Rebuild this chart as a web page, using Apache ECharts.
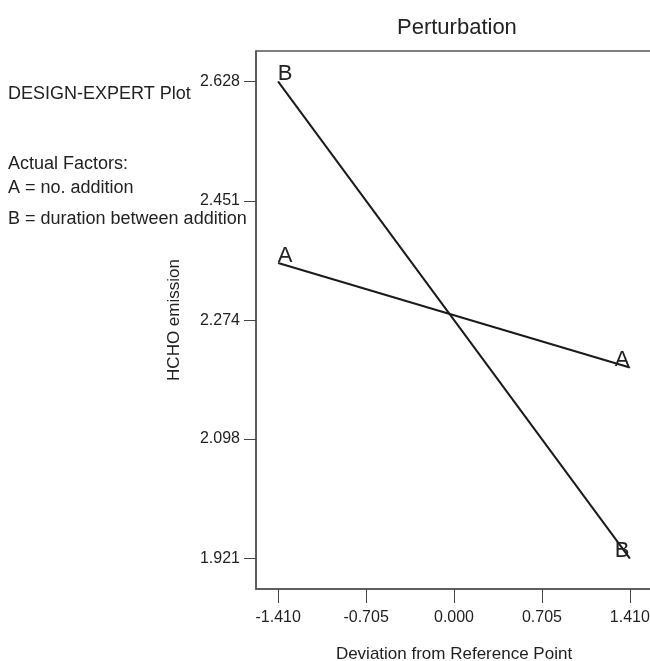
<!DOCTYPE html>
<html>
<head>
<meta charset="utf-8">
<script src="https://cdn.jsdelivr.net/npm/echarts@6/dist/echarts.min.js"></script>
<style>
  html, body { margin: 0; padding: 0; background: #fff; }
  #chart { width: 650px; height: 661px; }
</style>
</head>
<body>
<div id="chart"></div>
<script>
// perturbation data (deviation from reference point)
const xPoints = [-1.41, 1.41];
const factorA = [2.359, 2.204];
const factorB = [2.628, 1.921];
const xTicks = [-1.41, -0.705, 0, 0.705, 1.41];
const yTicks = [1.921, 2.098, 2.274, 2.451, 2.628];
const sideNotes = [
  "DESIGN-EXPERT Plot",
  "Actual Factors:",
  "A = no. addition",
  "B = duration between addition"
];

const FONT = "'Liberation Sans', Arial, sans-serif";
const INK = "#222";

function makeSeries(name, values) {
  const data = values.map(function (v, i) {
    const first = i === 0;
    return {
      value: [xPoints[i], v],
      label: {
        show: true,
        formatter: name,
        position: [0, 0],
        align: first ? "left" : "right",
        verticalAlign: "bottom",
        offset: [0, 4],
        fontSize: 22,
        fontFamily: FONT,
        color: INK
      }
    };
  });
  return {
    name: name,
    type: "line",
    data: data,
    symbol: "circle",
    symbolSize: 1,
    showSymbol: true,
    itemStyle: { color: INK },
    lineStyle: { color: "#1a1a1a", width: 2 },
    silent: true
  };
}

const chart = echarts.init(document.getElementById("chart"));
const noteY = [94, 164, 188, 219];
const option = {
  animation: false,
  backgroundColor: "#fff",
  title: {
    text: "Perturbation",
    left: 392,
    top: 12,
    textStyle: { fontFamily: FONT, fontSize: 22, fontWeight: "normal", color: INK }
  },
  grid: {
    left: 256,
    right: -2,
    top: 51,
    bottom: 72,
    show: true,
    borderColor: "#555",
    borderWidth: 1.5,
    outerBoundsMode: "none",
    containLabel: false
  },
  xAxis: {
    type: "value",
    min: -1.588,
    max: 1.588,
    name: "Deviation from Reference Point",
    nameLocation: "middle",
    nameGap: 57,
    nameTextStyle: { fontFamily: FONT, fontSize: 17, color: INK },
    axisLine: { show: true, onZero: false, lineStyle: { color: "#555", width: 1.5 } },
    axisTick: { show: true, length: 14, customValues: xTicks, lineStyle: { color: "#444" } },
    axisLabel: {
      customValues: xTicks,
      margin: 21,
      fontFamily: FONT,
      fontSize: 16,
      color: INK,
      formatter: function (v) { return v.toFixed(3); }
    },
    splitLine: { show: false }
  },
  yAxis: {
    type: "value",
    min: 1.8755,
    max: 2.6735,
    name: "HCHO emission",
    nameLocation: "middle",
    nameGap: 73,
    nameRotate: 90,
    nameTextStyle: { fontFamily: FONT, fontSize: 17, color: INK },
    axisLine: { show: true, onZero: false, lineStyle: { color: "#555", width: 1.5 } },
    axisTick: { show: true, length: 12, customValues: yTicks, lineStyle: { color: "#444" } },
    axisLabel: {
      customValues: yTicks,
      margin: 16,
      fontFamily: FONT,
      fontSize: 16,
      color: INK,
      formatter: function (v) { return v.toFixed(3); }
    },
    splitLine: { show: false }
  },
  graphic: sideNotes.map(function (t, i) {
    return {
      type: "text",
      left: 8,
      top: noteY[i] - 9,
      style: { text: t, fontFamily: FONT, fontSize: 18, fill: INK }
    };
  }),
  series: [makeSeries("A", factorA), makeSeries("B", factorB)]
};
chart.setOption(option);
</script>
</body>
</html>
